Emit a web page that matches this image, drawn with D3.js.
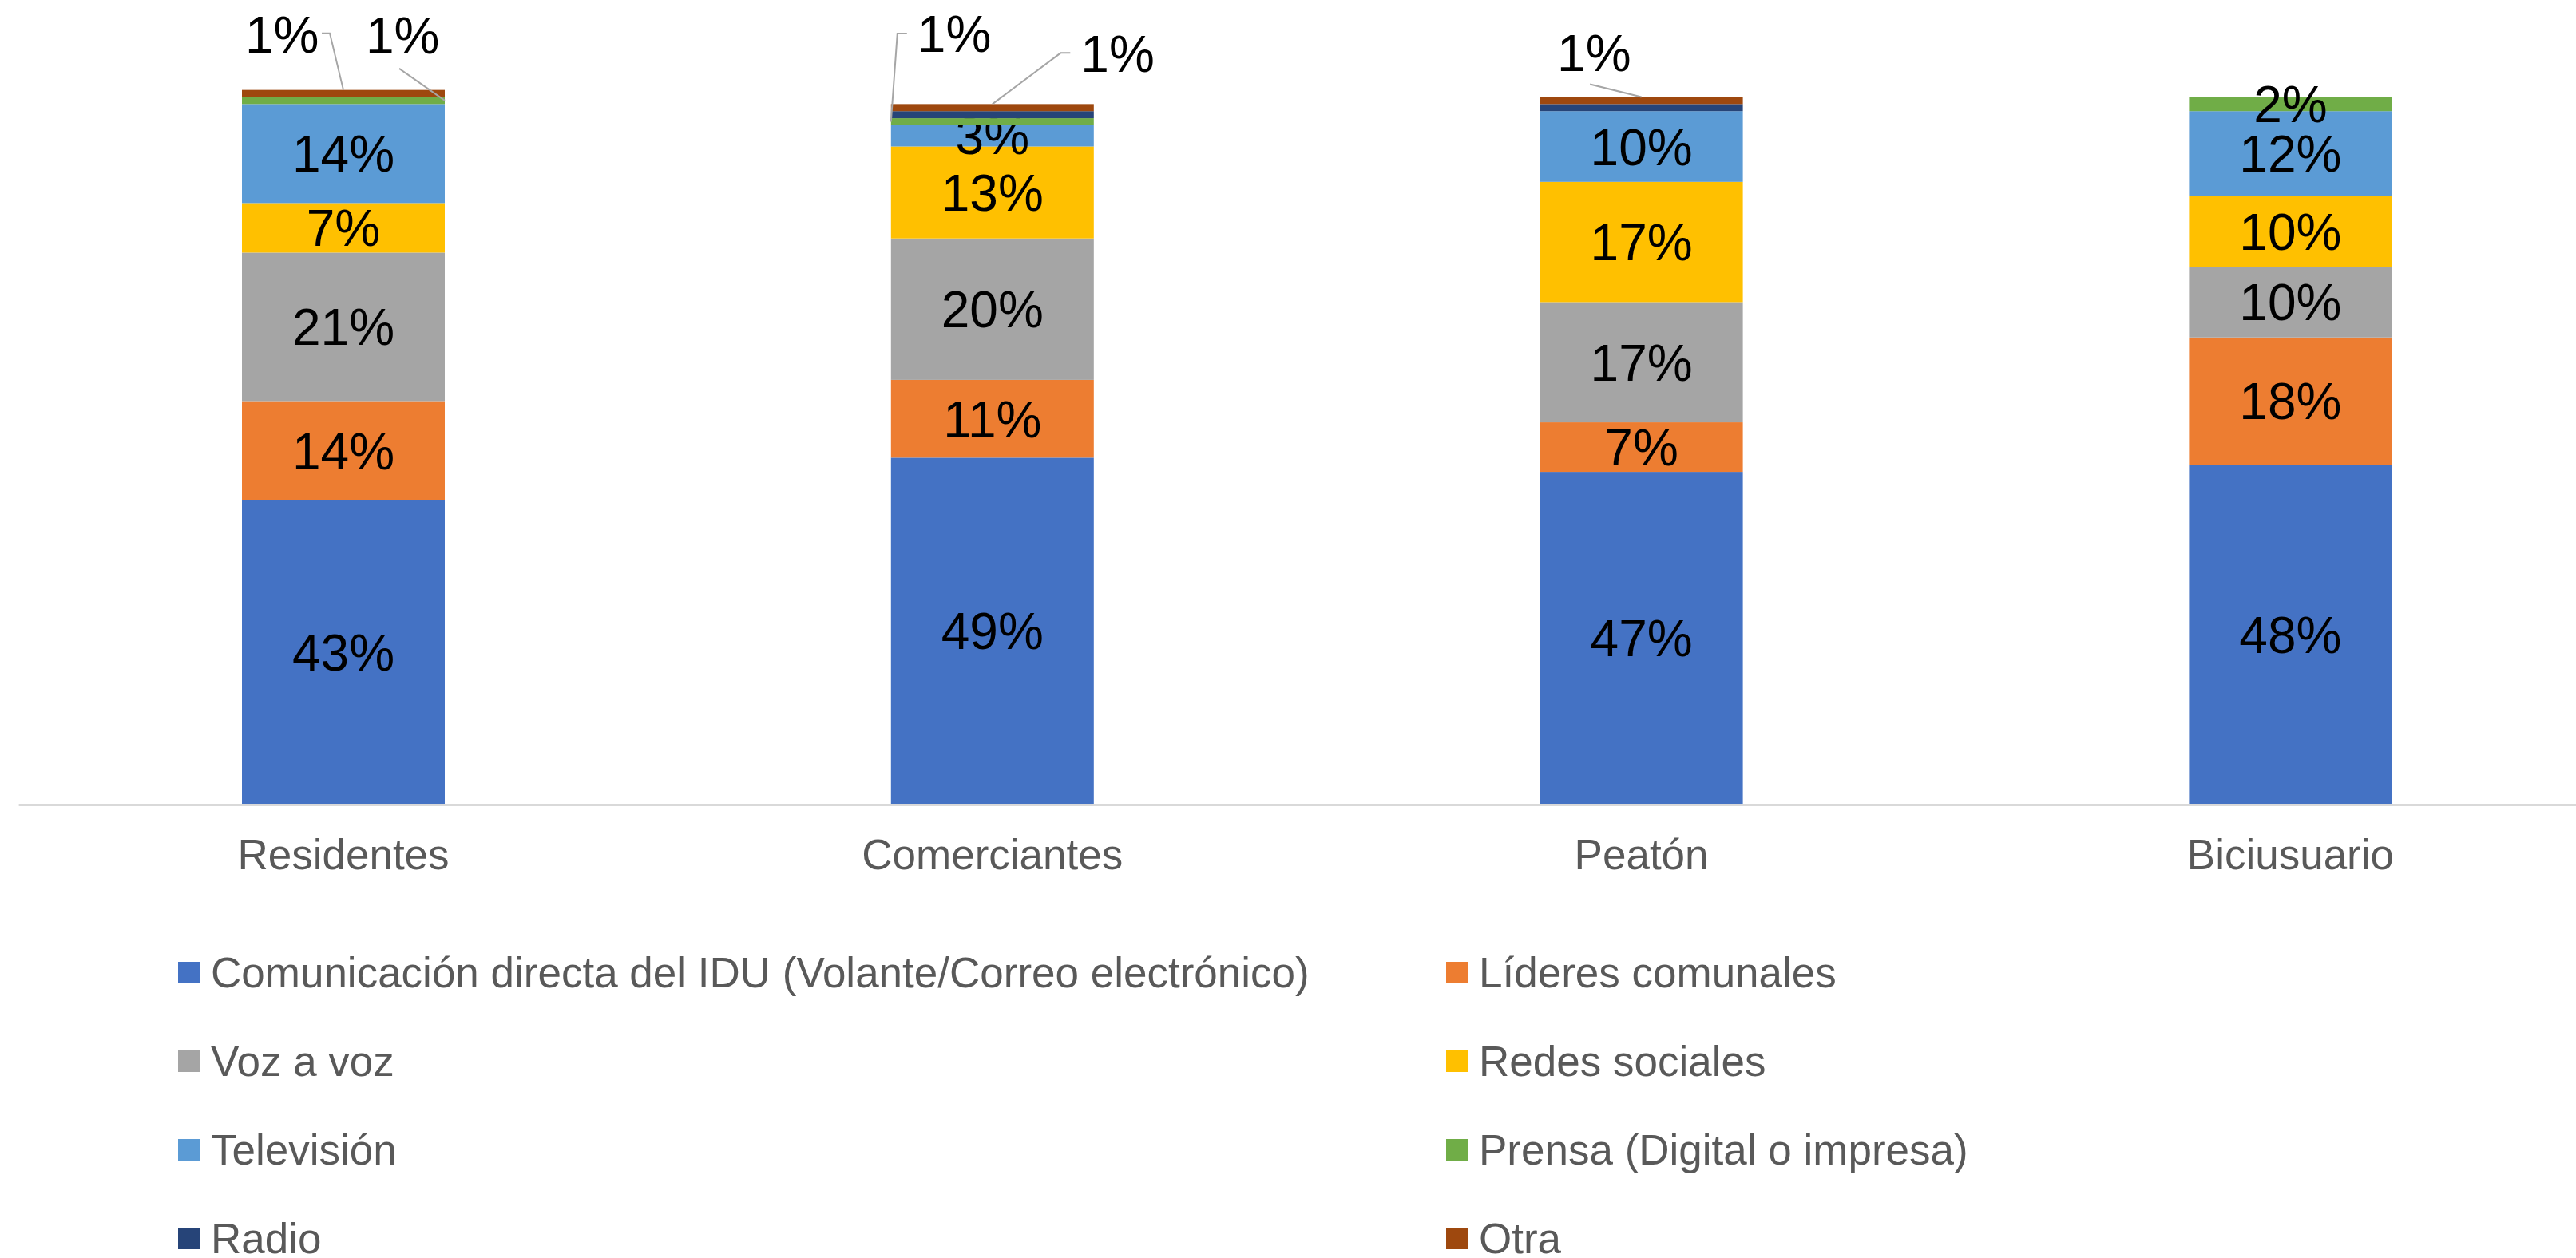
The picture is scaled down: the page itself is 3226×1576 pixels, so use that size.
<!DOCTYPE html>
<html>
<head>
<meta charset="utf-8">
<script src="https://cdn.jsdelivr.net/npm/d3@7"></script>
<style>
  body { margin: 0; background: #fff; }
  text { font-family: "Liberation Sans", Arial, sans-serif; }
</style>
</head>
<body>
<div class="chart"></div>
<script>
// categories and series (percent values)
var categories = ["Residentes", "Comerciantes", "Peatón", "Biciusuario"];
var seriesNames = [
  "Comunicación directa del IDU (Volante/Correo electrónico)",
  "Líderes comunales",
  "Voz a voz",
  "Redes sociales",
  "Televisión",
  "Prensa (Digital o impresa)",
  "Radio",
  "Otra"
];
var comunicacion = [43, 49, 47, 48];
var lideres = [14, 11, 7, 18];
var vozAVoz = [21, 20, 17, 10];
var redes = [7, 13, 17, 10];
var television = [14, 3, 10, 12];
var prensa = [1, 1, 0, 2];
var radio = [0, 1, 1, 0];
var otra = [1, 1, 1, 0];

var colors = ["#4472C4", "#ED7D31", "#A5A5A5", "#FFC000", "#5B9BD5", "#70AD47", "#264478", "#9E480E"];

var svgWidth = 3226;
var svgHeight = 1576;

var svg = d3.select(".chart")
    .append("svg")
    .attr("width", svgWidth)
    .attr("height", svgHeight);

// build rows for the stack
var allSeries = [comunicacion, lideres, vozAVoz, redes, television, prensa, radio, otra];
var rows = categories.map(function (c, i) {
    var r = { cat: c };
    seriesNames.forEach(function (s, j) { r[s] = allSeries[j][i] / 100; });
    return r;
});
var stacked = d3.stack().keys(seriesNames)(rows);

// scales
var xScale = d3.scaleBand()
    .domain(categories)
    .range([23.6, 3274.8])
    .paddingInner(0.6875)
    .paddingOuter(0.34375);
var yScale = d3.scaleLinear().domain([0, 1]).range([1007.5, 121.5]);

// bars
var layers = svg.selectAll("g.layer")
    .data(stacked)
    .enter()
    .append("g")
    .attr("class", "layer")
    .attr("fill", function (d, i) { return colors[i]; });

layers.selectAll("rect")
    .data(function (d) { return d; })
    .enter()
    .append("rect")
    .attr("x", function (d) { return xScale(d.data.cat); })
    .attr("width", xScale.bandwidth())
    .attr("y", function (d) { return yScale(d[1]); })
    .attr("height", function (d) { return yScale(d[0]) - yScale(d[1]); });

// x-axis line
svg.append("line")
    .attr("x1", 23.6).attr("x2", svgWidth)
    .attr("y1", yScale(0) + 1).attr("y2", yScale(0) + 1)
    .attr("stroke", "#d9d9d9")
    .attr("stroke-width", 3);

// category labels
svg.selectAll("text.cat")
    .data(categories)
    .enter()
    .append("text")
    .attr("class", "cat")
    .attr("x", function (d) { return xScale(d) + xScale.bandwidth() / 2; })
    .attr("y", 1089)
    .attr("text-anchor", "middle")
    .attr("font-size", "53px")
    .attr("fill", "#595959")
    .text(function (d) { return d; });

// labels inside the segments
layers.selectAll("text")
    .data(function (d) { return d.filter(function (p) { return p[1] - p[0] >= 0.015; }); })
    .enter()
    .append("text")
    .attr("x", function (d) { return xScale(d.data.cat) + xScale.bandwidth() / 2; })
    .attr("y", function (d) { return (yScale(d[0]) + yScale(d[1])) / 2 + 23; })
    .attr("text-anchor", "middle")
    .attr("font-size", "64px")
    .attr("fill", "#000")
    .text(function (d) { return Math.round((d[1] - d[0]) * 100) + "%"; });

// callouts for the 1% slices: which segment, where it is attached and offsets of text / leader
var callouts = [
    { cat: 0, s: 7, at: "top", tx: -123, ty: -47, pts: [[-27, -71], [-17, -71], [0, 0]] },
    { cat: 0, s: 5, at: "right", tx: -99, ty: -58.5, pts: [[-57, -40], [0, 0]] },
    { cat: 1, s: 5, at: "left", tx: 33, ty: -87.5, pts: [[20, -110.5], [8, -110.5], [0, 0]] },
    { cat: 1, s: 7, at: "top", tx: 110.5, ty: -40, pts: [[97.5, -64], [85.5, -64], [0, 0]] },
    { cat: 2, s: 7, at: "top", tx: -105.5, ty: -33, pts: [[-64.5, -16], [0, 0]] }
];

callouts.forEach(function (c) {
    var seg = stacked[c.s][c.cat];
    var x0 = xScale(categories[c.cat]);
    var ax, ay;
    if (c.at === "top") { ax = x0 + xScale.bandwidth() / 2; ay = yScale(seg[1]); }
    else if (c.at === "right") { ax = x0 + xScale.bandwidth(); ay = (yScale(seg[0]) + yScale(seg[1])) / 2; }
    else { ax = x0; ay = (yScale(seg[0]) + yScale(seg[1])) / 2; }

    svg.append("path")
        .attr("d", d3.line()(c.pts.map(function (p) { return [ax + p[0], ay + p[1]]; })))
        .attr("fill", "none")
        .attr("stroke", "#a6a6a6")
        .attr("stroke-width", 2);

    svg.append("text")
        .attr("x", ax + c.tx)
        .attr("y", ay + c.ty)
        .attr("font-size", "64px")
        .attr("fill", "#000")
        .text(Math.round((seg[1] - seg[0]) * 100) + "%");
});

// legend
var legend = svg.selectAll("g.legend")
    .data(seriesNames)
    .enter()
    .append("g")
    .attr("class", "legend")
    .attr("transform", function (d, i) {
        var lx = i % 2 === 0 ? 223 : 1811;
        var ly = 1237 + Math.floor(i / 2) * 111;
        return `translate(${lx},${ly})`;
    });

legend.append("rect")
    .attr("x", 0).attr("y", -32)
    .attr("width", 27).attr("height", 27)
    .attr("fill", function (d, i) { return colors[i]; });

legend.append("text")
    .attr("x", 41)
    .attr("y", 0)
    .attr("font-size", "53px")
    .attr("fill", "#595959")
    .text(function (d) { return d; });
</script>
</body>
</html>
